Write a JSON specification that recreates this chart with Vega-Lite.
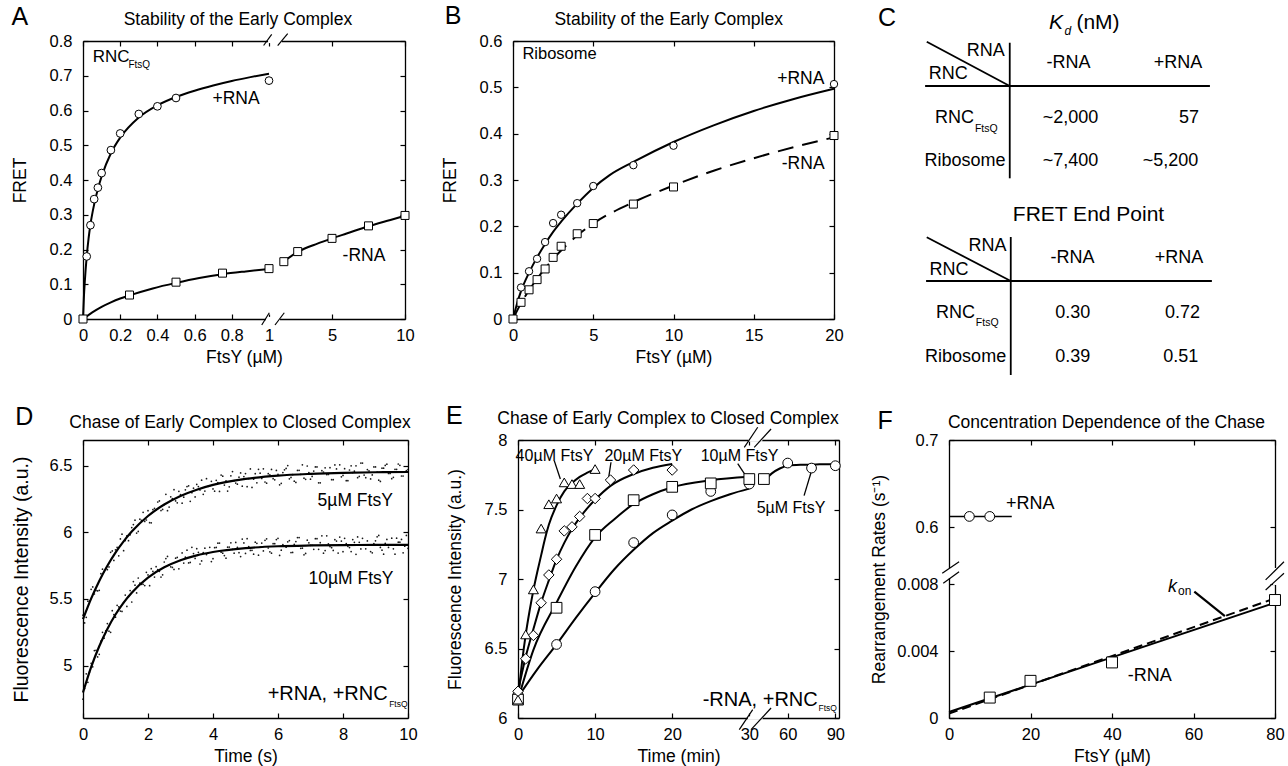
{
"$schema": "https://vega.github.io/schema/vega-lite/v6.json",
"padding": {"left": 11, "top": 4, "right": 4, "bottom": 4},
"bounds": "flush",
"spacing": 399,
"config": {
  "font": "Liberation Sans",
  "view": {"stroke": null},
  "axis": {"grid": false, "domainColor": "black", "domainWidth": 1.3, "tickColor": "black", "tickSize": -5, "tickWidth": 1.2, "labelFontSize": 16.5, "labelColor": "black", "labelPadding": 16, "labelFlush": false, "labelOverlap": false, "titleFontSize": 17.5, "titleFontWeight": "normal", "titleColor": "black", "zindex": 0},
  "axisX": {"labelPadding": 13, "titlePadding": 5},
  "axisY": {"titlePadding": 20},
  "text": {"color": "black", "font": "Liberation Sans"}
},
"datasets": {
  "A_gap": [{"x":0.995,"x2":1.57,"y":0.794,"y2":0.806},{"x":0.984,"x2":1.44,"y":-0.006,"y2":0.006}],
  "A_slash": [{"x":0.971,"y":0.787,"x2":1.09,"y2":0.819},{"x":1.29,"y":0.787,"x2":1.964,"y2":0.821},{"x":0.961,"y":-0.0173,"x2":1.01,"y2":0.018},{"x":1.2,"y":-0.0173,"x2":1.73,"y2":0.018}],
  "A_pline": [{"x":0,"y":0},{"x":0.005,"y":0.065},{"x":0.01,"y":0.11},{"x":0.02,"y":0.18},{"x":0.03,"y":0.232},{"x":0.04,"y":0.272},{"x":0.06,"y":0.33},{"x":0.08,"y":0.374},{"x":0.1,"y":0.41},{"x":0.15,"y":0.477},{"x":0.2,"y":0.522},{"x":0.3,"y":0.58},{"x":0.4,"y":0.615},{"x":0.5,"y":0.639},{"x":0.6,"y":0.657},{"x":0.7,"y":0.672},{"x":0.8,"y":0.685},{"x":0.9,"y":0.696},{"x":1,"y":0.706}],
  "A_mline": [{"x":0,"y":0,"seg":1},{"x":0.05,"y":0.019,"seg":1},{"x":0.1,"y":0.035,"seg":1},{"x":0.15,"y":0.048,"seg":1},{"x":0.2,"y":0.059,"seg":1},{"x":0.25,"y":0.068,"seg":1},{"x":0.375,"y":0.088,"seg":1},{"x":0.5,"y":0.104,"seg":1},{"x":0.625,"y":0.118,"seg":1},{"x":0.75,"y":0.129,"seg":1},{"x":0.875,"y":0.137,"seg":1},{"x":1,"y":0.144,"seg":1},{"x":1.7,"y":0.166,"seg":2},{"x":2.65,"y":0.193,"seg":2},{"x":4,"y":0.217,"seg":2},{"x":5,"y":0.232,"seg":2},{"x":6,"y":0.246,"seg":2},{"x":7.5,"y":0.267,"seg":2},{"x":9,"y":0.285,"seg":2},{"x":10,"y":0.297,"seg":2}],
  "A_ppts": [{"x":0.02,"y":0.18},{"x":0.04,"y":0.27},{"x":0.06,"y":0.345},{"x":0.08,"y":0.378},{"x":0.1,"y":0.42},{"x":0.15,"y":0.486},{"x":0.2,"y":0.534},{"x":0.3,"y":0.59},{"x":0.4,"y":0.612},{"x":0.5,"y":0.636},{"x":1,"y":0.686}],
  "A_mpts": [{"x":0,"y":0},{"x":0.25,"y":0.069},{"x":0.5,"y":0.106},{"x":0.75,"y":0.132},{"x":1,"y":0.145},{"x":1.7,"y":0.165},{"x":2.65,"y":0.194},{"x":5,"y":0.232},{"x":7.5,"y":0.268},{"x":10,"y":0.298}],
  "A_tc": [{"x":0.833,"y":0.861,"label":"Stability of the Early Complex"},{"x":0.823,"y":0.634,"label":"+RNA"},{"x":7.19,"y":0.182,"label":"-RNA"}],
  "A_tl": [{"x":0.052,"y":0.754,"label":"RNC"}],
  "A_sub": [{"x":0.244,"y":0.73,"label":"FtsQ"}],
  "A_let": [{"x":-0.339,"y":0.869,"label":"A"}],
  "B_ppts": [{"x":0.5,"y":0.068},{"x":1,"y":0.103},{"x":1.5,"y":0.13},{"x":2,"y":0.166},{"x":2.5,"y":0.207},{"x":3,"y":0.225},{"x":4,"y":0.25},{"x":5,"y":0.287},{"x":7.5,"y":0.332},{"x":10,"y":0.374},{"x":20,"y":0.507}],
  "B_mpts": [{"x":0,"y":0},{"x":0.5,"y":0.036},{"x":1,"y":0.063},{"x":1.5,"y":0.085},{"x":2,"y":0.108},{"x":2.5,"y":0.133},{"x":3,"y":0.157},{"x":4,"y":0.184},{"x":5,"y":0.206},{"x":7.5,"y":0.248},{"x":10,"y":0.285},{"x":20,"y":0.396}],
  "B_pline": [{"x":0,"y":0},{"x":0.25,"y":0.033},{"x":0.5,"y":0.06},{"x":1,"y":0.1},{"x":1.5,"y":0.133},{"x":2,"y":0.162},{"x":2.5,"y":0.188},{"x":3,"y":0.21},{"x":4,"y":0.249},{"x":5,"y":0.283},{"x":6,"y":0.31},{"x":7.5,"y":0.339},{"x":10,"y":0.382},{"x":12.5,"y":0.418},{"x":15,"y":0.449},{"x":17.5,"y":0.475},{"x":20,"y":0.497}],
  "B_mline": [{"x":0,"y":0},{"x":0.5,"y":0.034},{"x":1,"y":0.062},{"x":1.5,"y":0.087},{"x":2,"y":0.109},{"x":2.5,"y":0.13},{"x":3,"y":0.148},{"x":4,"y":0.18},{"x":5,"y":0.206},{"x":7.5,"y":0.252},{"x":10,"y":0.288},{"x":12.5,"y":0.32},{"x":15,"y":0.347},{"x":17.5,"y":0.371},{"x":20,"y":0.392}],
  "B_tc": [{"x":9.7,"y":0.6454,"label":"Stability of the Early Complex"},{"x":17.93,"y":0.517,"label":"+RNA"},{"x":18.08,"y":0.334,"label":"-RNA"}],
  "B_tl": [{"x":0.586,"y":0.571,"label":"Ribosome"}],
  "B_let": [{"x":-3.73,"y":0.653,"label":"B"}],
  "C_lines": [{"u":-1.349,"v":-0.483,"u2":0.0065,"v2":0.536},{"u":-1.376,"v":0.536,"u2":3.276,"v2":0.536},{"u":0.0065,"v":-0.46,"u2":0.0065,"v2":2.661},{"u":-1.349,"v":4.019,"u2":0.023,"v2":5.025},{"u":-1.36,"v":5.025,"u2":3.308,"v2":5.025},{"u":0.023,"v":4.012,"u2":0.023,"v2":7.189}],
  "C_K": [{"u":0.646,"v":-0.918,"label":"K"}],
  "C_d": [{"u":0.901,"v":-0.734,"label":"d"}],
  "C_bigl": [{"u":1.096,"v":-0.918,"label":"(nM)"}],
  "C_bigc": [{"u":1.293,"v":3.499,"label":"FRET End Point"}],
  "C_c": [{"u":0.967,"v":0,"label":"-RNA"},{"u":2.756,"v":0,"label":"+RNA"},{"u":1.031,"v":4.503,"label":"-RNA"},{"u":2.772,"v":4.503,"label":"+RNA"},{"u":0.999,"v":1.28,"label":"~2,000"},{"u":0.999,"v":2.27,"label":"~7,400"},{"u":1.036,"v":5.769,"label":"0.30"},{"u":1.036,"v":6.775,"label":"0.39"}],
  "C_l": [{"u":-1.316,"v":0.265,"label":"RNC"},{"u":-1.306,"v":4.765,"label":"RNC"},{"u":-1.214,"v":1.28,"label":"RNC"},{"u":-1.197,"v":5.769,"label":"RNC"},{"u":-1.387,"v":2.27,"label":"Ribosome"},{"u":-1.376,"v":6.775,"label":"Ribosome"}],
  "C_r": [{"u":-0.075,"v":-0.274,"label":"RNA"},{"u":-0.047,"v":4.215,"label":"RNA"},{"u":3.097,"v":1.28,"label":"57"},{"u":3.086,"v":2.27,"label":"~5,200"},{"u":3.113,"v":5.769,"label":"0.72"},{"u":3.086,"v":6.775,"label":"0.51"}],
  "C_sub": [{"u":-0.563,"v":1.522,"label":"FtsQ"},{"u":-0.547,"v":5.999,"label":"FtsQ"}],
  "C_let": [{"u":-1.998,"v":-1.029,"label":"C"}],
  "D_dots": [{"t":0,"a":5.378,"b":4.748},{"t":0.1,"a":5.362,"b":4.938},{"t":0.2,"a":5.483,"b":4.952},{"t":0.3,"a":5.59,"b":4.991},{"t":0.4,"a":5.564,"b":5.115},{"t":0.5,"a":5.565,"b":5.085},{"t":0.6,"a":5.723,"b":5.25},{"t":0.7,"a":5.728,"b":5.261},{"t":0.8,"a":5.74,"b":5.258},{"t":0.9,"a":5.86,"b":5.412},{"t":1,"a":5.868,"b":5.363},{"t":1.1,"a":5.823,"b":5.441},{"t":1.2,"a":5.986,"b":5.406},{"t":1.3,"a":5.938,"b":5.529},{"t":1.4,"a":5.937,"b":5.519},{"t":1.5,"a":6.035,"b":5.477},{"t":1.6,"a":6.091,"b":5.603},{"t":1.7,"a":6.006,"b":5.657},{"t":1.8,"a":6.089,"b":5.61},{"t":1.9,"a":6.081,"b":5.6},{"t":2,"a":6.162,"b":5.68},{"t":2.1,"a":6.071,"b":5.727},{"t":2.2,"a":6.179,"b":5.664},{"t":2.3,"a":6.227,"b":5.719},{"t":2.4,"a":6.163,"b":5.664},{"t":2.5,"a":6.208,"b":5.777},{"t":2.6,"a":6.162,"b":5.819},{"t":2.7,"a":6.266,"b":5.741},{"t":2.8,"a":6.319,"b":5.721},{"t":2.9,"a":6.221,"b":5.811},{"t":3,"a":6.282,"b":5.79},{"t":3.1,"a":6.263,"b":5.769},{"t":3.2,"a":6.343,"b":5.866},{"t":3.3,"a":6.232,"b":5.774},{"t":3.4,"a":6.331,"b":5.84},{"t":3.5,"a":6.359,"b":5.877},{"t":3.6,"a":6.317,"b":5.762},{"t":3.7,"a":6.285,"b":5.848},{"t":3.8,"a":6.402,"b":5.833},{"t":3.9,"a":6.348,"b":5.887},{"t":4,"a":6.325,"b":5.802},{"t":4.1,"a":6.39,"b":5.886},{"t":4.2,"a":6.306,"b":5.919},{"t":4.3,"a":6.421,"b":5.843},{"t":4.4,"a":6.386,"b":5.806},{"t":4.5,"a":6.341,"b":5.889},{"t":4.6,"a":6.455,"b":5.872},{"t":4.7,"a":6.369,"b":5.924},{"t":4.8,"a":6.413,"b":5.847},{"t":4.9,"a":6.346,"b":5.949},{"t":5,"a":6.44,"b":5.841},{"t":5.1,"a":6.403,"b":5.893},{"t":5.2,"a":6.336,"b":5.865},{"t":5.3,"a":6.439,"b":5.926},{"t":5.4,"a":6.472,"b":5.828},{"t":5.5,"a":6.404,"b":5.919},{"t":5.6,"a":6.377,"b":5.94},{"t":5.7,"a":6.439,"b":5.882},{"t":5.8,"a":6.471,"b":5.843},{"t":5.9,"a":6.393,"b":5.914},{"t":6,"a":6.435,"b":5.955},{"t":6.1,"a":6.367,"b":5.866},{"t":6.2,"a":6.468,"b":5.897},{"t":6.3,"a":6.5,"b":5.928},{"t":6.4,"a":6.411,"b":5.848},{"t":6.5,"a":6.383,"b":5.909},{"t":6.6,"a":6.464,"b":5.96},{"t":6.7,"a":6.435,"b":5.88},{"t":6.8,"a":6.406,"b":5.831},{"t":6.9,"a":6.497,"b":5.941},{"t":7,"a":6.398,"b":5.901},{"t":7.1,"a":6.459,"b":5.872},{"t":7.2,"a":6.49,"b":5.952},{"t":7.3,"a":6.371,"b":5.922},{"t":7.4,"a":6.452,"b":5.843},{"t":7.5,"a":6.433,"b":5.973},{"t":7.6,"a":6.484,"b":5.893},{"t":7.7,"a":6.394,"b":5.864},{"t":7.8,"a":6.475,"b":5.934},{"t":7.9,"a":6.506,"b":5.964},{"t":8,"a":6.426,"b":5.854},{"t":8.1,"a":6.387,"b":5.915},{"t":8.2,"a":6.467,"b":5.885},{"t":8.3,"a":6.448,"b":5.945},{"t":8.4,"a":6.498,"b":5.835},{"t":8.5,"a":6.419,"b":5.925},{"t":8.6,"a":6.519,"b":5.955},{"t":8.7,"a":6.409,"b":5.876},{"t":8.8,"a":6.46,"b":5.906},{"t":8.9,"a":6.43,"b":5.846},{"t":9,"a":6.49,"b":5.936},{"t":9.1,"a":6.391,"b":5.976},{"t":9.2,"a":6.481,"b":5.866},{"t":9.3,"a":6.501,"b":5.916},{"t":9.4,"a":6.441,"b":5.886},{"t":9.5,"a":6.402,"b":5.956},{"t":9.6,"a":6.472,"b":5.836},{"t":9.7,"a":6.512,"b":5.926},{"t":9.8,"a":6.422,"b":5.946},{"t":9.9,"a":6.452,"b":5.896},{"t":10,"a":6.47,"b":5.88}],
  "D_dots2": [{"t":0.05,"a":5.32,"b":4.828},{"t":0.15,"a":5.483,"b":4.875},{"t":0.25,"a":5.572,"b":5.017},{"t":0.35,"a":5.537,"b":5.113},{"t":0.45,"a":5.56,"b":5.065},{"t":0.55,"a":5.689,"b":5.183},{"t":0.65,"a":5.706,"b":5.206},{"t":0.75,"a":5.719,"b":5.315},{"t":0.85,"a":5.85,"b":5.25},{"t":0.95,"a":5.789,"b":5.383},{"t":1.05,"a":5.886,"b":5.452},{"t":1.15,"a":5.95,"b":5.409},{"t":1.25,"a":5.862,"b":5.473},{"t":1.35,"a":5.973,"b":5.444},{"t":1.45,"a":5.981,"b":5.563},{"t":1.55,"a":6.058,"b":5.63},{"t":1.65,"a":5.994,"b":5.545},{"t":1.75,"a":6.098,"b":5.619},{"t":1.85,"a":6.15,"b":5.61},{"t":1.95,"a":6.092,"b":5.7},{"t":2.05,"a":6.072,"b":5.599},{"t":2.15,"a":6.17,"b":5.706},{"t":2.25,"a":6.168,"b":5.742},{"t":2.35,"a":6.235,"b":5.707},{"t":2.45,"a":6.171,"b":5.681},{"t":2.55,"a":6.285,"b":5.803},{"t":2.65,"a":6.189,"b":5.755},{"t":2.75,"a":6.253,"b":5.736},{"t":2.85,"a":6.235,"b":5.806},{"t":2.95,"a":6.307,"b":5.726},{"t":3.05,"a":6.218,"b":5.845},{"t":3.15,"a":6.318,"b":5.813},{"t":3.25,"a":6.348,"b":5.77},{"t":3.35,"a":6.297,"b":5.887},{"t":3.45,"a":6.265,"b":5.804},{"t":3.55,"a":6.343,"b":5.85},{"t":3.65,"a":6.391,"b":5.785},{"t":3.75,"a":6.309,"b":5.881},{"t":3.85,"a":6.345,"b":5.845},{"t":3.95,"a":6.382,"b":5.78},{"t":4.05,"a":6.308,"b":5.884},{"t":4.15,"a":6.373,"b":5.918},{"t":4.25,"a":6.429,"b":5.851},{"t":4.35,"a":6.354,"b":5.825},{"t":4.45,"a":6.309,"b":5.888},{"t":4.55,"a":6.423,"b":5.921},{"t":4.65,"a":6.387,"b":5.843},{"t":4.75,"a":6.361,"b":5.886},{"t":4.85,"a":6.445,"b":5.818},{"t":4.95,"a":6.418,"b":5.92},{"t":5.05,"a":6.342,"b":5.952},{"t":5.15,"a":6.475,"b":5.864},{"t":5.25,"a":6.398,"b":5.836},{"t":5.35,"a":6.371,"b":5.917},{"t":5.45,"a":6.443,"b":5.889},{"t":5.55,"a":6.476,"b":5.86},{"t":5.65,"a":6.368,"b":5.951},{"t":5.75,"a":6.43,"b":5.853},{"t":5.85,"a":6.402,"b":5.914},{"t":5.95,"a":6.464,"b":5.945},{"t":6.05,"a":6.356,"b":5.826},{"t":6.15,"a":6.448,"b":5.907},{"t":6.25,"a":6.479,"b":5.888},{"t":6.35,"a":6.401,"b":5.938},{"t":6.45,"a":6.432,"b":5.849},{"t":6.55,"a":6.374,"b":5.93},{"t":6.65,"a":6.465,"b":5.96},{"t":6.75,"a":6.506,"b":5.881},{"t":6.85,"a":6.397,"b":5.841},{"t":6.95,"a":6.448,"b":5.921},{"t":7.05,"a":6.419,"b":5.902},{"t":7.15,"a":6.49,"b":5.952},{"t":7.25,"a":6.371,"b":5.872},{"t":7.35,"a":6.462,"b":5.973},{"t":7.45,"a":6.483,"b":5.863},{"t":7.55,"a":6.434,"b":5.913},{"t":7.65,"a":6.394,"b":5.884},{"t":7.75,"a":6.505,"b":5.944},{"t":7.85,"a":6.446,"b":5.844},{"t":7.95,"a":6.416,"b":5.934},{"t":8.05,"a":6.477,"b":5.955},{"t":8.15,"a":6.387,"b":5.895},{"t":8.25,"a":6.498,"b":5.855},{"t":8.35,"a":6.458,"b":5.925},{"t":8.45,"a":6.409,"b":5.965},{"t":8.55,"a":6.519,"b":5.875},{"t":8.65,"a":6.429,"b":5.905},{"t":8.75,"a":6.47,"b":5.935},{"t":8.85,"a":6.4,"b":5.855},{"t":8.95,"a":6.49,"b":5.915},{"t":9.05,"a":6.451,"b":5.966},{"t":9.15,"a":6.381,"b":5.886},{"t":9.25,"a":6.481,"b":5.836},{"t":9.35,"a":6.511,"b":5.946},{"t":9.45,"a":6.441,"b":5.906},{"t":9.55,"a":6.412,"b":5.876},{"t":9.65,"a":6.472,"b":5.956},{"t":9.75,"a":6.502,"b":5.926},{"t":9.85,"a":6.422,"b":5.846},{"t":9.95,"a":6.462,"b":5.976}],
  "D_lines": [{"t":0,"u":5.348,"l":4.798},{"t":0.25,"u":5.502,"l":4.988},{"t":0.5,"u":5.635,"l":5.145},{"t":0.75,"u":5.749,"l":5.275},{"t":1,"u":5.848,"l":5.383},{"t":1.25,"u":5.932,"l":5.473},{"t":1.5,"u":6.005,"l":5.547},{"t":2,"u":6.122,"l":5.66},{"t":2.5,"u":6.208,"l":5.737},{"t":3,"u":6.272,"l":5.79},{"t":3.5,"u":6.319,"l":5.827},{"t":4,"u":6.355,"l":5.852},{"t":5,"u":6.4,"l":5.881},{"t":6,"u":6.425,"l":5.895},{"t":7,"u":6.438,"l":5.901},{"t":8,"u":6.446,"l":5.904},{"t":9,"u":6.45,"l":5.905},{"t":10,"u":6.452,"l":5.906}],
  "D_tc": [{"x":4.83,"y":6.822,"label":"Chase of Early Complex to Closed Complex"},{"x":8.375,"y":6.238,"label":"5µM FtsY"},{"x":8.246,"y":5.65,"label":"10µM FtsY"}],
  "D_big": [{"x":9.375,"y":4.786,"label":"+RNA, +RNC"}],
  "D_sub": [{"x":9.42,"y":4.711,"label":"FtsQ"}],
  "D_let": [{"x":-1.806,"y":6.866,"label":"D"}],
  "E_gap": [{"x":29.8,"x2":44.2,"y":5.988,"y2":6.012},{"x":29.9,"x2":44,"y":7.988,"y2":8.012}],
  "E_slash": [{"x":28.7,"y":5.916,"x2":37.8,"y2":6.06},{"x":33.9,"y":5.916,"x2":49.5,"y2":6.072},{"x":29.35,"y":7.947,"x2":41.1,"y2":8.092},{"x":38.9,"y":7.947,"x2":49.5,"y2":8.079}],
  "E_lines": [
    {"t":0,"v":6.14,"s":"40"},{"t":0.5,"v":6.39,"s":"40"},{"t":1,"v":6.6,"s":"40"},{"t":1.5,"v":6.77,"s":"40"},{"t":2,"v":6.92,"s":"40"},{"t":2.5,"v":7.05,"s":"40"},{"t":3,"v":7.17,"s":"40"},{"t":3.5,"v":7.29,"s":"40"},{"t":4,"v":7.39,"s":"40"},{"t":5,"v":7.53,"s":"40"},{"t":6,"v":7.63,"s":"40"},{"t":7,"v":7.69,"s":"40"},{"t":8,"v":7.735,"s":"40"},{"t":9,"v":7.765,"s":"40"},{"t":10,"v":7.79,"s":"40"},
    {"t":0,"v":6.19,"s":"20"},{"t":1,"v":6.44,"s":"20"},{"t":2,"v":6.64,"s":"20"},{"t":3,"v":6.83,"s":"20"},{"t":4,"v":6.99,"s":"20"},{"t":5,"v":7.14,"s":"20"},{"t":6,"v":7.26,"s":"20"},{"t":7,"v":7.36,"s":"20"},{"t":8,"v":7.44,"s":"20"},{"t":9,"v":7.51,"s":"20"},{"t":10,"v":7.57,"s":"20"},{"t":12,"v":7.67,"s":"20"},{"t":15,"v":7.755,"s":"20"},{"t":17.5,"v":7.8,"s":"20"},{"t":20,"v":7.827,"s":"20"},
    {"t":0,"v":6.13,"s":"10"},{"t":2,"v":6.49,"s":"10"},{"t":5,"v":6.83,"s":"10"},{"t":7.5,"v":7.09,"s":"10"},{"t":10,"v":7.3,"s":"10"},{"t":12.5,"v":7.43,"s":"10"},{"t":15,"v":7.54,"s":"10"},{"t":17.5,"v":7.61,"s":"10"},{"t":20,"v":7.66,"s":"10"},{"t":25,"v":7.71,"s":"10"},{"t":30,"v":7.735,"s":"10"},
    {"t":0,"v":6.15,"s":"5a"},{"t":2.5,"v":6.35,"s":"5a"},{"t":5,"v":6.53,"s":"5a"},{"t":7.5,"v":6.72,"s":"5a"},{"t":10,"v":6.9,"s":"5a"},{"t":12.5,"v":7.07,"s":"5a"},{"t":15,"v":7.21,"s":"5a"},{"t":17.5,"v":7.33,"s":"5a"},{"t":20,"v":7.42,"s":"5a"},{"t":22.5,"v":7.5,"s":"5a"},{"t":25,"v":7.56,"s":"5a"},{"t":27.5,"v":7.61,"s":"5a"},{"t":30,"v":7.65,"s":"5a"},
    {"t":45.3,"v":7.71,"s":"5b"},{"t":50,"v":7.76,"s":"5b"},{"t":55,"v":7.795,"s":"5b"},{"t":60,"v":7.815,"s":"5b"},{"t":70,"v":7.822,"s":"5b"},{"t":80,"v":7.825,"s":"5b"},{"t":90,"v":7.827,"s":"5b"}],
  "E_circ": [{"t":0,"v":6.17},{"t":5,"v":6.529},{"t":10,"v":6.909},{"t":15,"v":7.262},{"t":20,"v":7.461},{"t":25,"v":7.63},{"t":30,"v":7.683},{"t":60,"v":7.834},{"t":75,"v":7.798},{"t":90,"v":7.815}],
  "E_sq": [{"t":0,"v":6.132},{"t":5,"v":6.793},{"t":10,"v":7.317},{"t":15,"v":7.567},{"t":20,"v":7.663},{"t":25,"v":7.688},{"t":30,"v":7.719},{"t":45,"v":7.719}],
  "E_dia": [{"t":0,"v":6.192},{"t":1,"v":6.426},{"t":2,"v":6.594},{"t":3,"v":6.829},{"t":4,"v":7.029},{"t":5,"v":7.142},{"t":6,"v":7.346},{"t":7,"v":7.375},{"t":8,"v":7.45},{"t":9,"v":7.579},{"t":10,"v":7.579},{"t":12,"v":7.712},{"t":15,"v":7.784},{"t":20,"v":7.784}],
  "E_tri": [{"t":0,"v":6.132},{"t":1,"v":6.601},{"t":2,"v":6.925},{"t":3,"v":7.363},{"t":4,"v":7.538},{"t":5,"v":7.579},{"t":6,"v":7.695},{"t":7,"v":7.683},{"t":8,"v":7.683},{"t":10,"v":7.791}],
  "E_lead": [{"x":4.71,"y":7.85,"x2":5.49,"y2":7.72},{"x":12.06,"y":7.84,"x2":11.76,"y2":7.73},{"x":28.5,"y":7.83,"x2":29.57,"y2":7.74},{"x":75.3,"y":7.79,"x2":70.3,"y2":7.6}],
  "E_tc": [{"x":19.46,"y":8.149,"label":"Chase of Early Complex to Closed Complex"}],
  "E_lab": [{"x":4.73,"y":7.887,"label":"40µM FtsY"},{"x":16.25,"y":7.887,"label":"20µM FtsY"},{"x":28.73,"y":7.887,"label":"10µM FtsY"},{"x":62.1,"y":7.512,"label":"5µM FtsY"}],
  "E_big": [{"x":78.9,"y":6.132,"label":"-RNA, +RNC"}],
  "E_sub": [{"x":79.4,"y":6.072,"label":"FtsQ"}],
  "E_let": [{"x":-8.26,"y":8.175,"label":"E"}],
  "F_gap": [{"x":-0.5,"x2":0.5,"y":0.0739,"y2":0.5533},{"x":79.5,"x2":80.5,"y":0.00795,"y2":0.5533}],
  "F_slash": [{"x":-1.66,"y":0.354,"x2":2.48,"y2":0.5604},{"x":-1.41,"y":0.00805,"x2":2.48,"y2":0.4496},{"x":77.7,"y":0.00825,"x2":82.2,"y2":0.5604},{"x":77.7,"y":0.00765,"x2":82.2,"y2":0.354}],
  "F_solid": [{"x":0,"y":0.00036},{"x":80,"y":0.00689}],
  "F_dash": [{"x":0,"y":0.00026},{"x":80,"y":0.00715}],
  "F_plus": [{"x":0,"y":0.6124},{"x":15.4,"y":0.6124}],
  "F_sq": [{"x":10,"y":0.00122},{"x":20,"y":0.00222},{"x":40,"y":0.00332},{"x":80,"y":0.00705}],
  "F_circ": [{"x":5,"y":0.6124},{"x":10,"y":0.6124}],
  "F_lead": [{"x":60.2,"y":0.00755,"x2":67.7,"y2":0.00609}],
  "F_tc": [{"x":38.65,"y":0.7198,"label":"Concentration Dependence of the Chase"}],
  "F_tl": [{"x":14.0,"y":0.6265,"label":"+RNA"},{"x":43.85,"y":0.0025,"label":"-RNA"}],
  "F_k": [{"x":54.85,"y":0.0078,"label":"k"}],
  "F_on": [{"x":56.2,"y":0.00759,"label":"on"}],
  "F_let": [{"x":-15.7,"y":0.7218,"label":"F"}]
},
"vconcat": [
 {"hconcat": [
  {"width": 322, "height": 278,
   "resolve": {"axis": {"x": "independent", "y": "independent"}},
   "layer": [
    {"data": {"name": "A_gap"}, "mark": {"type": "rect", "fill": "white", "stroke": null},
     "encoding": {
      "x": {"field": "x", "type": "quantitative", "scale": {"domain": [0,1,1.3,10], "range": [0,186,195,322], "nice": false, "zero": false}, "axis": {"values": [0,0.2,0.4,0.6,0.8,1,5,10], "format": "~r", "title": "FtsY (µM)"}},
      "x2": {"field": "x2"},
      "y": {"field": "y", "type": "quantitative", "scale": {"domain": [0,0.8], "nice": false, "zero": false}, "axis": {"values": [0,0.1,0.2,0.3,0.4,0.5,0.6,0.7,0.8], "format": "~r", "title": "FRET"}},
      "y2": {"field": "y2"}}},
    {"data": {"name": "A_slash"}, "mark": {"type": "rule", "color": "black", "strokeWidth": 1.2},
     "encoding": {
      "x": {"field": "x", "type": "quantitative", "axis": {"orient": "top", "values": [0,0.2,0.4,0.6,0.8,1,5,10], "labels": false, "title": null}},
      "x2": {"field": "x2"},
      "y": {"field": "y", "type": "quantitative", "axis": {"orient": "right", "values": [0,0.1,0.2,0.3,0.4,0.5,0.6,0.7,0.8], "labels": false, "title": null}},
      "y2": {"field": "y2"}}},
    {"data": {"name": "A_pline"}, "mark": {"type": "line", "color": "black", "strokeWidth": 2, "interpolate": "monotone"},
     "encoding": {"x": {"field": "x", "type": "quantitative", "axis": null}, "y": {"field": "y", "type": "quantitative", "axis": null}}},
    {"data": {"name": "A_mline"}, "mark": {"type": "line", "color": "black", "strokeWidth": 2, "interpolate": "monotone"},
     "encoding": {"x": {"field": "x", "type": "quantitative", "axis": null}, "y": {"field": "y", "type": "quantitative", "axis": null}, "detail": {"field": "seg"}}},
    {"data": {"name": "A_mpts"}, "mark": {"type": "point", "shape": "square", "filled": true, "fill": "white", "stroke": "black", "strokeWidth": 1, "size": 64, "opacity": 1},
     "encoding": {"x": {"field": "x", "type": "quantitative", "axis": null}, "y": {"field": "y", "type": "quantitative", "axis": null}}},
    {"data": {"name": "A_ppts"}, "mark": {"type": "point", "shape": "circle", "filled": true, "fill": "white", "stroke": "black", "strokeWidth": 1, "size": 60, "opacity": 1},
     "encoding": {"x": {"field": "x", "type": "quantitative", "axis": null}, "y": {"field": "y", "type": "quantitative", "axis": null}}},
    {"data": {"name": "A_tc"}, "mark": {"type": "text", "fontSize": 17.5, "align": "center", "baseline": "middle"},
     "encoding": {"x": {"field": "x", "type": "quantitative", "axis": null}, "y": {"field": "y", "type": "quantitative", "axis": null}, "text": {"field": "label"}}},
    {"data": {"name": "A_tl"}, "mark": {"type": "text", "fontSize": 17, "align": "left", "baseline": "middle"},
     "encoding": {"x": {"field": "x", "type": "quantitative", "axis": null}, "y": {"field": "y", "type": "quantitative", "axis": null}, "text": {"field": "label"}}},
    {"data": {"name": "A_sub"}, "mark": {"type": "text", "fontSize": 10, "align": "left", "baseline": "middle"},
     "encoding": {"x": {"field": "x", "type": "quantitative", "axis": null}, "y": {"field": "y", "type": "quantitative", "axis": null}, "text": {"field": "label"}}},
    {"data": {"name": "A_let"}, "mark": {"type": "text", "fontSize": 25, "align": "center", "baseline": "middle"},
     "encoding": {"x": {"field": "x", "type": "quantitative", "axis": null}, "y": {"field": "y", "type": "quantitative", "axis": null}, "text": {"field": "label"}}}
   ]},
  {"width": 321, "height": 278,
   "resolve": {"axis": {"x": "independent", "y": "independent"}},
   "layer": [
    {"data": {"name": "B_pline"}, "mark": {"type": "line", "color": "black", "strokeWidth": 2, "interpolate": "monotone"},
     "encoding": {
      "x": {"field": "x", "type": "quantitative", "scale": {"domain": [0,20], "nice": false, "zero": false}, "axis": {"values": [0,5,10,15,20], "format": "~r", "title": "FtsY (µM)"}},
      "y": {"field": "y", "type": "quantitative", "scale": {"domain": [0,0.6], "nice": false, "zero": false}, "axis": {"values": [0,0.1,0.2,0.3,0.4,0.5,0.6], "format": "~r", "title": "FRET"}}}},
    {"data": {"name": "B_mline"}, "mark": {"type": "line", "color": "black", "strokeWidth": 2, "strokeDash": [16, 9], "interpolate": "monotone"},
     "encoding": {
      "x": {"field": "x", "type": "quantitative", "axis": {"orient": "top", "values": [0,5,10,15,20], "labels": false, "title": null}},
      "y": {"field": "y", "type": "quantitative", "axis": {"orient": "right", "values": [0,0.1,0.2,0.3,0.4,0.5,0.6], "labels": false, "title": null}}}},
    {"data": {"name": "B_mpts"}, "mark": {"type": "point", "shape": "square", "filled": true, "fill": "white", "stroke": "black", "strokeWidth": 1, "size": 64, "opacity": 1},
     "encoding": {"x": {"field": "x", "type": "quantitative", "axis": null}, "y": {"field": "y", "type": "quantitative", "axis": null}}},
    {"data": {"name": "B_ppts"}, "mark": {"type": "point", "shape": "circle", "filled": true, "fill": "white", "stroke": "black", "strokeWidth": 1, "size": 55, "opacity": 1},
     "encoding": {"x": {"field": "x", "type": "quantitative", "axis": null}, "y": {"field": "y", "type": "quantitative", "axis": null}}},
    {"data": {"name": "B_tc"}, "mark": {"type": "text", "fontSize": 17.5, "align": "center", "baseline": "middle"},
     "encoding": {"x": {"field": "x", "type": "quantitative", "axis": null}, "y": {"field": "y", "type": "quantitative", "axis": null}, "text": {"field": "label"}}},
    {"data": {"name": "B_tl"}, "mark": {"type": "text", "fontSize": 16.5, "align": "left", "baseline": "middle"},
     "encoding": {"x": {"field": "x", "type": "quantitative", "axis": null}, "y": {"field": "y", "type": "quantitative", "axis": null}, "text": {"field": "label"}}},
    {"data": {"name": "B_let"}, "mark": {"type": "text", "fontSize": 25, "align": "center", "baseline": "middle"},
     "encoding": {"x": {"field": "x", "type": "quantitative", "axis": null}, "y": {"field": "y", "type": "quantitative", "axis": null}, "text": {"field": "label"}}}
   ]},
  {"width": 300, "height": 278,
   "layer": [
    {"data": {"name": "C_lines"}, "mark": {"type": "rule", "color": "black", "strokeWidth": 1.8},
     "encoding": {
      "x": {"field": "u", "type": "quantitative", "scale": {"domain": [-1.1,3.8], "nice": false, "zero": false}, "axis": null},
      "x2": {"field": "u2"},
      "y": {"field": "v", "type": "quantitative", "scale": {"domain": [-0.5,5.9], "reverse": true, "nice": false, "zero": false}, "axis": null},
      "y2": {"field": "v2"}}},
    {"data": {"name": "C_K"}, "mark": {"type": "text", "fontSize": 21, "fontStyle": "italic", "align": "left", "baseline": "middle"},
     "encoding": {"x": {"field": "u", "type": "quantitative", "axis": null}, "y": {"field": "v", "type": "quantitative", "axis": null}, "text": {"field": "label"}}},
    {"data": {"name": "C_d"}, "mark": {"type": "text", "fontSize": 12, "fontStyle": "italic", "align": "left", "baseline": "middle"},
     "encoding": {"x": {"field": "u", "type": "quantitative", "axis": null}, "y": {"field": "v", "type": "quantitative", "axis": null}, "text": {"field": "label"}}},
    {"data": {"name": "C_bigl"}, "mark": {"type": "text", "fontSize": 21, "align": "left", "baseline": "middle"},
     "encoding": {"x": {"field": "u", "type": "quantitative", "axis": null}, "y": {"field": "v", "type": "quantitative", "axis": null}, "text": {"field": "label"}}},
    {"data": {"name": "C_bigc"}, "mark": {"type": "text", "fontSize": 21, "align": "center", "baseline": "middle"},
     "encoding": {"x": {"field": "u", "type": "quantitative", "axis": null}, "y": {"field": "v", "type": "quantitative", "axis": null}, "text": {"field": "label"}}},
    {"data": {"name": "C_c"}, "mark": {"type": "text", "fontSize": 18, "align": "center", "baseline": "middle"},
     "encoding": {"x": {"field": "u", "type": "quantitative", "axis": null}, "y": {"field": "v", "type": "quantitative", "axis": null}, "text": {"field": "label"}}},
    {"data": {"name": "C_l"}, "mark": {"type": "text", "fontSize": 18, "align": "left", "baseline": "middle"},
     "encoding": {"x": {"field": "u", "type": "quantitative", "axis": null}, "y": {"field": "v", "type": "quantitative", "axis": null}, "text": {"field": "label"}}},
    {"data": {"name": "C_r"}, "mark": {"type": "text", "fontSize": 18, "align": "right", "baseline": "middle"},
     "encoding": {"x": {"field": "u", "type": "quantitative", "axis": null}, "y": {"field": "v", "type": "quantitative", "axis": null}, "text": {"field": "label"}}},
    {"data": {"name": "C_sub"}, "mark": {"type": "text", "fontSize": 10.5, "align": "left", "baseline": "middle"},
     "encoding": {"x": {"field": "u", "type": "quantitative", "axis": null}, "y": {"field": "v", "type": "quantitative", "axis": null}, "text": {"field": "label"}}},
    {"data": {"name": "C_let"}, "mark": {"type": "text", "fontSize": 25, "align": "center", "baseline": "middle"},
     "encoding": {"x": {"field": "u", "type": "quantitative", "axis": null}, "y": {"field": "v", "type": "quantitative", "axis": null}, "text": {"field": "label"}}}
   ]}
 ], "spacing": 108, "bounds": "flush"},
 {"hconcat": [
  {"width": 325, "height": 278,
   "resolve": {"axis": {"x": "independent", "y": "independent"}},
   "layer": [
    {"data": {"name": "D_dots"}, "mark": {"type": "circle", "color": "black", "size": 3, "opacity": 0.9},
     "encoding": {
      "x": {"field": "t", "type": "quantitative", "scale": {"domain": [0,10], "nice": false, "zero": false}, "axis": {"values": [0,2,4,6,8,10], "format": "~r", "title": "Time (s)"}},
      "y": {"field": "a", "type": "quantitative", "scale": {"domain": [4.607,6.692], "nice": false, "zero": false}, "axis": {"values": [5,5.5,6,6.5], "format": "~r", "title": "Fluorescence Intensity (a.u.)", "titleFontSize": 19.5, "titlePadding": 18}}}},
    {"data": {"name": "D_dots"}, "mark": {"type": "circle", "color": "black", "size": 3, "opacity": 0.9},
     "encoding": {
      "x": {"field": "t", "type": "quantitative", "axis": {"orient": "top", "values": [0,2,4,6,8,10], "labels": false, "title": null}},
      "y": {"field": "b", "type": "quantitative", "axis": {"orient": "right", "values": [5,5.5,6,6.5], "labels": false, "title": null}}}},
    {"data": {"name": "D_dots2"}, "mark": {"type": "circle", "color": "black", "size": 3, "opacity": 0.9},
     "encoding": {"x": {"field": "t", "type": "quantitative", "axis": null}, "y": {"field": "a", "type": "quantitative", "axis": null}}},
    {"data": {"name": "D_dots2"}, "mark": {"type": "circle", "color": "black", "size": 3, "opacity": 0.9},
     "encoding": {"x": {"field": "t", "type": "quantitative", "axis": null}, "y": {"field": "b", "type": "quantitative", "axis": null}}},
    {"data": {"name": "D_lines"}, "mark": {"type": "line", "color": "black", "strokeWidth": 2.2, "interpolate": "monotone"},
     "encoding": {"x": {"field": "t", "type": "quantitative", "axis": null}, "y": {"field": "u", "type": "quantitative", "axis": null}}},
    {"data": {"name": "D_lines"}, "mark": {"type": "line", "color": "black", "strokeWidth": 2.2, "interpolate": "monotone"},
     "encoding": {"x": {"field": "t", "type": "quantitative", "axis": null}, "y": {"field": "l", "type": "quantitative", "axis": null}}},
    {"data": {"name": "D_tc"}, "mark": {"type": "text", "fontSize": 17.5, "align": "center", "baseline": "middle"},
     "encoding": {"x": {"field": "x", "type": "quantitative", "axis": null}, "y": {"field": "y", "type": "quantitative", "axis": null}, "text": {"field": "label"}}},
    {"data": {"name": "D_big"}, "mark": {"type": "text", "fontSize": 20, "align": "right", "baseline": "middle"},
     "encoding": {"x": {"field": "x", "type": "quantitative", "axis": null}, "y": {"field": "y", "type": "quantitative", "axis": null}, "text": {"field": "label"}}},
    {"data": {"name": "D_sub"}, "mark": {"type": "text", "fontSize": 8.5, "align": "left", "baseline": "middle"},
     "encoding": {"x": {"field": "x", "type": "quantitative", "axis": null}, "y": {"field": "y", "type": "quantitative", "axis": null}, "text": {"field": "label"}}},
    {"data": {"name": "D_let"}, "mark": {"type": "text", "fontSize": 25, "align": "center", "baseline": "middle"},
     "encoding": {"x": {"field": "x", "type": "quantitative", "axis": null}, "y": {"field": "y", "type": "quantitative", "axis": null}, "text": {"field": "label"}}}
   ]},
  {"width": 321, "height": 278,
   "resolve": {"axis": {"x": "independent", "y": "independent"}},
   "layer": [
    {"data": {"name": "E_gap"}, "mark": {"type": "rect", "fill": "white", "stroke": null},
     "encoding": {
      "x": {"field": "x", "type": "quantitative", "scale": {"domain": [0,30,38,92.3], "range": [0,231.3,234.8,321], "nice": false, "zero": false}, "axis": {"values": [0,10,20,30,60,90], "format": "~r", "title": "Time (min)"}},
      "x2": {"field": "x2"},
      "y": {"field": "y", "type": "quantitative", "scale": {"domain": [6,8], "nice": false, "zero": false}, "axis": {"values": [6,6.5,7,7.5,8], "format": "~r", "title": "Fluorescence Intensity (a.u.)"}},
      "y2": {"field": "y2"}}},
    {"data": {"name": "E_slash"}, "mark": {"type": "rule", "color": "black", "strokeWidth": 1.2},
     "encoding": {
      "x": {"field": "x", "type": "quantitative", "axis": {"orient": "top", "values": [0,10,20,30,60,90], "labels": false, "title": null}},
      "x2": {"field": "x2"},
      "y": {"field": "y", "type": "quantitative", "axis": {"orient": "right", "values": [6,6.5,7,7.5,8], "labels": false, "title": null}},
      "y2": {"field": "y2"}}},
    {"data": {"name": "E_lines"}, "mark": {"type": "line", "color": "black", "strokeWidth": 2, "interpolate": "monotone"},
     "encoding": {"x": {"field": "t", "type": "quantitative", "axis": null}, "y": {"field": "v", "type": "quantitative", "axis": null}, "detail": {"field": "s"}}},
    {"data": {"name": "E_lead"}, "mark": {"type": "rule", "color": "black", "strokeWidth": 1.3},
     "encoding": {"x": {"field": "x", "type": "quantitative", "axis": null}, "x2": {"field": "x2"}, "y": {"field": "y", "type": "quantitative", "axis": null}, "y2": {"field": "y2"}}},
    {"data": {"name": "E_circ"}, "mark": {"type": "point", "shape": "circle", "filled": true, "fill": "white", "stroke": "black", "strokeWidth": 1, "size": 95, "opacity": 1},
     "encoding": {"x": {"field": "t", "type": "quantitative", "axis": null}, "y": {"field": "v", "type": "quantitative", "axis": null}}},
    {"data": {"name": "E_sq"}, "mark": {"type": "point", "shape": "square", "filled": true, "fill": "white", "stroke": "black", "strokeWidth": 1, "size": 115, "opacity": 1},
     "encoding": {"x": {"field": "t", "type": "quantitative", "axis": null}, "y": {"field": "v", "type": "quantitative", "axis": null}}},
    {"data": {"name": "E_dia"}, "mark": {"type": "point", "shape": "diamond", "filled": true, "fill": "white", "stroke": "black", "strokeWidth": 1, "size": 110, "opacity": 1},
     "encoding": {"x": {"field": "t", "type": "quantitative", "axis": null}, "y": {"field": "v", "type": "quantitative", "axis": null}}},
    {"data": {"name": "E_tri"}, "mark": {"type": "point", "shape": "triangle-up", "filled": true, "fill": "white", "stroke": "black", "strokeWidth": 1, "size": 100, "opacity": 1},
     "encoding": {"x": {"field": "t", "type": "quantitative", "axis": null}, "y": {"field": "v", "type": "quantitative", "axis": null}}},
    {"data": {"name": "E_tc"}, "mark": {"type": "text", "fontSize": 17.5, "align": "center", "baseline": "middle"},
     "encoding": {"x": {"field": "x", "type": "quantitative", "axis": null}, "y": {"field": "y", "type": "quantitative", "axis": null}, "text": {"field": "label"}}},
    {"data": {"name": "E_lab"}, "mark": {"type": "text", "fontSize": 16, "align": "center", "baseline": "middle"},
     "encoding": {"x": {"field": "x", "type": "quantitative", "axis": null}, "y": {"field": "y", "type": "quantitative", "axis": null}, "text": {"field": "label"}}},
    {"data": {"name": "E_big"}, "mark": {"type": "text", "fontSize": 20, "align": "right", "baseline": "middle"},
     "encoding": {"x": {"field": "x", "type": "quantitative", "axis": null}, "y": {"field": "y", "type": "quantitative", "axis": null}, "text": {"field": "label"}}},
    {"data": {"name": "E_sub"}, "mark": {"type": "text", "fontSize": 8.5, "align": "left", "baseline": "middle"},
     "encoding": {"x": {"field": "x", "type": "quantitative", "axis": null}, "y": {"field": "y", "type": "quantitative", "axis": null}, "text": {"field": "label"}}},
    {"data": {"name": "E_let"}, "mark": {"type": "text", "fontSize": 25, "align": "center", "baseline": "middle"},
     "encoding": {"x": {"field": "x", "type": "quantitative", "axis": null}, "y": {"field": "y", "type": "quantitative", "axis": null}, "text": {"field": "label"}}}
   ]},
  {"width": 326, "height": 278,
   "resolve": {"axis": {"x": "independent", "y": "independent"}},
   "layer": [
    {"data": {"name": "F_gap"}, "mark": {"type": "rect", "fill": "white", "stroke": null},
     "encoding": {
      "x": {"field": "x", "type": "quantitative", "scale": {"domain": [0,80], "nice": false, "zero": false}, "axis": {"values": [0,20,40,60,80], "format": "~r", "title": "FtsY (µM)"}},
      "x2": {"field": "x2"},
      "y": {"field": "y", "type": "quantitative", "scale": {"domain": [0,0.0083,0.551,0.7], "range": [278,139.1,130,0], "nice": false, "zero": false}, "axis": {"values": [0,0.004,0.008,0.6,0.7], "format": "~r", "title": "Rearrangement Rates (s⁻¹)", "titlePadding": 8}},
      "y2": {"field": "y2"}}},
    {"data": {"name": "F_slash"}, "mark": {"type": "rule", "color": "black", "strokeWidth": 1.2},
     "encoding": {
      "x": {"field": "x", "type": "quantitative", "axis": {"orient": "top", "values": [0,20,40,60,80], "labels": false, "title": null}},
      "x2": {"field": "x2"},
      "y": {"field": "y", "type": "quantitative", "axis": {"orient": "right", "values": [0,0.004,0.008,0.6,0.7], "labels": false, "title": null}},
      "y2": {"field": "y2"}}},
    {"data": {"name": "F_dash"}, "mark": {"type": "line", "color": "black", "strokeWidth": 2, "strokeDash": [9, 5]},
     "encoding": {"x": {"field": "x", "type": "quantitative", "axis": null}, "y": {"field": "y", "type": "quantitative", "axis": null}}},
    {"data": {"name": "F_solid"}, "mark": {"type": "line", "color": "black", "strokeWidth": 2},
     "encoding": {"x": {"field": "x", "type": "quantitative", "axis": null}, "y": {"field": "y", "type": "quantitative", "axis": null}}},
    {"data": {"name": "F_plus"}, "mark": {"type": "line", "color": "black", "strokeWidth": 1.6},
     "encoding": {"x": {"field": "x", "type": "quantitative", "axis": null}, "y": {"field": "y", "type": "quantitative", "axis": null}}},
    {"data": {"name": "F_lead"}, "mark": {"type": "rule", "color": "black", "strokeWidth": 2.2},
     "encoding": {"x": {"field": "x", "type": "quantitative", "axis": null}, "x2": {"field": "x2"}, "y": {"field": "y", "type": "quantitative", "axis": null}, "y2": {"field": "y2"}}},
    {"data": {"name": "F_sq"}, "mark": {"type": "point", "shape": "square", "filled": true, "fill": "white", "stroke": "black", "strokeWidth": 1, "size": 120, "opacity": 1},
     "encoding": {"x": {"field": "x", "type": "quantitative", "axis": null}, "y": {"field": "y", "type": "quantitative", "axis": null}}},
    {"data": {"name": "F_circ"}, "mark": {"type": "point", "shape": "circle", "filled": true, "fill": "white", "stroke": "black", "strokeWidth": 1, "size": 95, "opacity": 1},
     "encoding": {"x": {"field": "x", "type": "quantitative", "axis": null}, "y": {"field": "y", "type": "quantitative", "axis": null}}},
    {"data": {"name": "F_tc"}, "mark": {"type": "text", "fontSize": 17.5, "align": "center", "baseline": "middle"},
     "encoding": {"x": {"field": "x", "type": "quantitative", "axis": null}, "y": {"field": "y", "type": "quantitative", "axis": null}, "text": {"field": "label"}}},
    {"data": {"name": "F_tl"}, "mark": {"type": "text", "fontSize": 18, "align": "left", "baseline": "middle"},
     "encoding": {"x": {"field": "x", "type": "quantitative", "axis": null}, "y": {"field": "y", "type": "quantitative", "axis": null}, "text": {"field": "label"}}},
    {"data": {"name": "F_k"}, "mark": {"type": "text", "fontSize": 18, "fontStyle": "italic", "align": "center", "baseline": "middle"},
     "encoding": {"x": {"field": "x", "type": "quantitative", "axis": null}, "y": {"field": "y", "type": "quantitative", "axis": null}, "text": {"field": "label"}}},
    {"data": {"name": "F_on"}, "mark": {"type": "text", "fontSize": 12, "align": "left", "baseline": "middle"},
     "encoding": {"x": {"field": "x", "type": "quantitative", "axis": null}, "y": {"field": "y", "type": "quantitative", "axis": null}, "text": {"field": "label"}}},
    {"data": {"name": "F_let"}, "mark": {"type": "text", "fontSize": 25, "align": "center", "baseline": "middle"},
     "encoding": {"x": {"field": "x", "type": "quantitative", "axis": null}, "y": {"field": "y", "type": "quantitative", "axis": null}, "text": {"field": "label"}}}
   ]}
 ], "spacing": 110, "bounds": "flush"}
]
}
